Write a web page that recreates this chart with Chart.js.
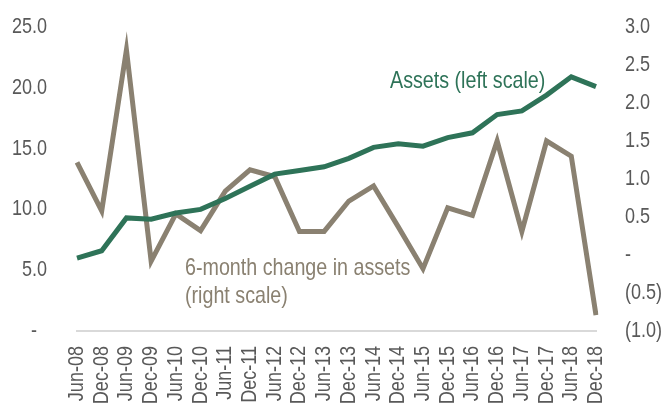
<!DOCTYPE html>
<html>
<head>
<meta charset="utf-8">
<script src="https://cdn.jsdelivr.net/npm/chart.js@4.4.1/dist/chart.umd.min.js"></script>
<style>
  html, body { margin: 0; padding: 0; background: #ffffff; }
  #wrap { width: 665px; height: 408px; position: relative; }
</style>
</head>
<body>
<div id="wrap"><canvas id="c" width="665" height="408"></canvas></div>
<script>
const categories = ["Jun-08","Dec-08","Jun-09","Dec-09","Jun-10","Dec-10","Jun-11","Dec-11","Jun-12","Dec-12","Jun-13","Dec-13","Jun-14","Dec-14","Jun-15","Dec-15","Jun-16","Dec-16","Jun-17","Dec-17","Jun-18","Dec-18"];
const assets = [6.0, 6.6, 9.3, 9.2, 9.7, 10.0, 10.9, 11.9, 12.9, 13.2, 13.5, 14.2, 15.1, 15.4, 15.2, 15.9, 16.3, 17.8, 18.1, 19.4, 20.9, 20.1];
const change6m = [1.22, 0.58, 2.70, -0.08, 0.54, 0.32, 0.84, 1.12, 1.03, 0.31, 0.31, 0.71, 0.91, 0.37, -0.18, 0.62, 0.52, 1.50, 0.31, 1.50, 1.30, -0.79];
const leftTicks = [0, 5, 10, 15, 20, 25];
const rightTicks = [-1, -0.5, 0, 0.5, 1, 1.5, 2, 2.5, 3];

const GREEN = '#2E7358';
const BROWN = '#8A8171';
const TXT = '#595959';
const FONT = "'Liberation Sans', Arial, sans-serif";
const NARROW = 0.82; // emulate a narrow sans face by horizontal condensing

// Condense all canvas text horizontally (text stays real text)
const canvas = document.getElementById('c');
const ctx0 = canvas.getContext('2d');
const origFill = ctx0.fillText.bind(ctx0);
const origMeasure = ctx0.measureText.bind(ctx0);
ctx0.fillText = function(t, x, y, mw) {
  this.save();
  this.translate(x, y);
  this.scale(NARROW, 1);
  if (mw !== undefined) origFill(t, 0, 0, mw / NARROW); else origFill(t, 0, 0);
  this.restore();
};
ctx0.measureText = function(t) {
  const m = origMeasure(t);
  return { width: m.width * NARROW, actualBoundingBoxAscent: m.actualBoundingBoxAscent, actualBoundingBoxDescent: m.actualBoundingBoxDescent };
};

const annot = {
  id: 'annot',
  afterDatasetsDraw(chart) {
    const ctx = chart.ctx;
    ctx.save();
    ctx.font = '24px ' + FONT;
    ctx.textBaseline = 'middle';
    ctx.textAlign = 'left';
    ctx.fillStyle = GREEN;
    ctx.fillText('Assets (left scale)', 390, 81);
    ctx.fillStyle = BROWN;
    ctx.fillText('6-month change in assets', 185, 268);
    ctx.fillText('(right scale)', 185, 296);
    ctx.restore();
  }
};

function noVPad(s) { s.paddingTop = 0; s.paddingBottom = 0; }

new Chart(canvas, {
  type: 'line',
  data: {
    labels: categories,
    datasets: [
      { label: 'Assets (left scale)', data: assets, yAxisID: 'yL', borderColor: GREEN, borderWidth: 5, pointRadius: 0, tension: 0, order: 1 },
      { label: '6-month change in assets (right scale)', data: change6m, yAxisID: 'yR', borderColor: BROWN, borderWidth: 5, pointRadius: 0, tension: 0, order: 2 }
    ]
  },
  options: {
    responsive: false,
    animation: false,
    layout: { padding: { top: 27, left: 0, right: 0, bottom: 0 } },
    plugins: { legend: { display: false }, tooltip: { enabled: false } },
    scales: {
      x: {
        offset: false,
        grid: { display: false, drawTicks: false },
        border: { display: true, color: '#D9D9D9', width: 2 },
        ticks: { color: TXT, font: { family: FONT, size: 22 }, minRotation: 90, maxRotation: 90, padding: 15, autoSkip: false },
        afterFit(s) { s.height = 77; s.paddingLeft = 0; s.paddingRight = 0; }
      },
      yL: {
        position: 'left', min: 0, max: 25,
        afterBuildTicks(s) { s.ticks = leftTicks.map(v => ({ value: v })); },
        grid: { display: false, drawTicks: false },
        border: { display: false },
        ticks: { color: TXT, font: { family: FONT, size: 22 }, padding: 30,
          callback: v => v === 0 ? '-  ' : v.toFixed(1) },
        afterFit(s) { s.width = 77; noVPad(s); }
      },
      yR: {
        position: 'right', min: -1, max: 3,
        afterBuildTicks(s) { s.ticks = rightTicks.map(v => ({ value: v })); },
        grid: { display: false, drawTicks: false },
        border: { display: false },
        ticks: { color: TXT, font: { family: FONT, size: 22 }, padding: 29,
          callback: v => v === 0 ? '-' : (v < 0 ? '(' + Math.abs(v).toFixed(1) + ')' : v.toFixed(1)) },
        afterFit(s) { s.width = 69; noVPad(s); }
      }
    }
  },
  plugins: [annot]
});
</script>
</body>
</html>
